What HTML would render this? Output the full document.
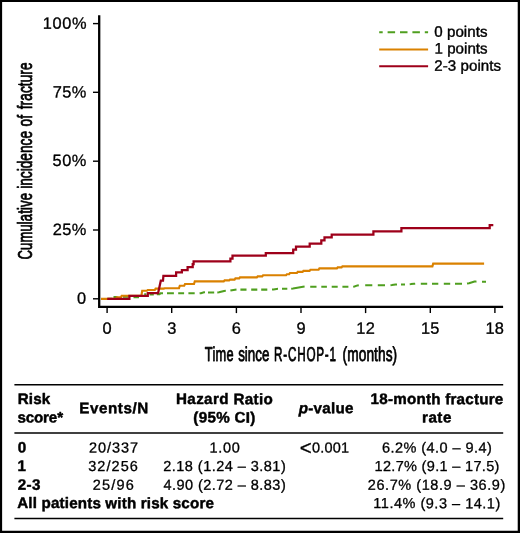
<!DOCTYPE html>
<html lang="en">
<head>
<meta charset="utf-8">
<title>Cumulative incidence of fracture</title>
<style>
html,body{margin:0;padding:0;background:#fff;}
body{width:520px;height:533px;overflow:hidden;}
svg{display:block;}
text{font-family:"Liberation Sans",Arial,Helvetica,sans-serif;fill:#000;stroke:#000;stroke-width:0.3px;stroke-linejoin:round;}
.t{font-size:16.4px;stroke-width:0.3px;}
.l{font-size:15.1px;stroke-width:0.4px;}
.c{font-size:20px;stroke-width:0.8px;}
.b{font-size:15.2px;font-weight:bold;stroke-width:0.45px;}
.r{font-size:14.5px;stroke-width:0.3px;}
</style>
</head>
<body>
<svg width="520" height="533" viewBox="0 0 520 533">
<rect x="0" y="0" width="520" height="533" fill="#fff"/>
<path d="M0,0H520V533H0Z M2.12,2.12V530.7H517.72V2.12Z" fill="#000" fill-rule="evenodd"/>
<path d="M99.2,15.3 V306.9 H503.1" fill="none" stroke="#000" stroke-width="2.3"/>
<line x1="93" x2="99" y1="298.8" y2="298.8" stroke="#000" stroke-width="1.4"/>
<line x1="93" x2="99" y1="230.0" y2="230.0" stroke="#000" stroke-width="1.4"/>
<line x1="93" x2="99" y1="161.2" y2="161.2" stroke="#000" stroke-width="1.4"/>
<line x1="93" x2="99" y1="92.3" y2="92.3" stroke="#000" stroke-width="1.4"/>
<line x1="93" x2="99" y1="23.6" y2="23.6" stroke="#000" stroke-width="1.4"/>
<line x1="107.1" x2="107.1" y1="307" y2="313.1" stroke="#000" stroke-width="1.4"/>
<line x1="171.7" x2="171.7" y1="307" y2="313.1" stroke="#000" stroke-width="1.4"/>
<line x1="236.4" x2="236.4" y1="307" y2="313.1" stroke="#000" stroke-width="1.4"/>
<line x1="301.0" x2="301.0" y1="307" y2="313.1" stroke="#000" stroke-width="1.4"/>
<line x1="365.6" x2="365.6" y1="307" y2="313.1" stroke="#000" stroke-width="1.4"/>
<line x1="430.3" x2="430.3" y1="307" y2="313.1" stroke="#000" stroke-width="1.4"/>
<line x1="494.9" x2="494.9" y1="307" y2="313.1" stroke="#000" stroke-width="1.4"/>
<path d="M107.5,298.7 L112.0,298.7 M113.5,297.1 L117.5,297.1 M123.0,296.7 L128.5,296.7 M133.5,297.1 L139.0,297.1 M144.2,294.3 L146.4,294.3 M149.6,294.4 L153.8,294.4 M156.8,294.3 L159.5,294.2 L160.5,293.2 L163.0,293.2 M167.0,293.2 L173.9,293.2 M178.2,293.2 L184.1,293.2 M188.4,293.2 L194.7,293.2 M199.6,293.3 L201.0,293.2 L204.0,292.3 L205.0,292.2 M208.0,292.4 L214.2,292.4 M217.3,292.4 L219.0,292.3 L224.0,290.9 L225.8,290.8 M230.4,290.6 L232.0,290.3 L235.0,289.8 L236.5,289.6 M240.4,289.6 L246.5,289.6 M251.2,289.6 L257.3,289.6 M261.2,289.6 L267.3,289.6 M272.0,289.5 L273.5,289.4 L276.5,288.9 L278.0,288.8 M282.0,288.8 L287.3,288.8 M291.2,288.7 L293.0,288.5 L303.0,286.7 L304.6,286.5 M310.2,286.8 L316.5,286.8 M321.3,286.8 L326.9,286.8 M331.7,286.8 L337.7,286.8 M342.4,286.8 L348.4,286.8 M353.2,286.7 L354.5,286.5 L357.5,285.4 L358.8,285.2 M365.2,285.2 L372.3,285.2 M377.8,285.2 L385.0,285.2 M390.5,285.2 L392.0,285.1 L395.5,284.5 L397.0,284.4 M401.0,284.4 L405.0,284.4 M409.7,284.2 L411.0,284.1 L414.0,283.8 L415.2,283.7 M420.8,283.7 L427.2,283.7 M432.0,283.7 L438.3,283.7 M443.8,283.7 L450.2,283.7 M455.0,283.7 L462.0,283.7 M467.0,283.6 L469.0,283.3 L474.5,281.6 L476.5,281.4 M482.0,281.7 L486.0,281.7" fill="none" stroke="#4f9f1f" stroke-width="2.05"/>
<path d="M101.0,298.9 L116.0,298.9 L116.8,297.3 L120.9,297.3 L121.7,295.7 L141.4,295.7 L142.2,290.7 L146.9,290.7 L147.7,290.0 L154.8,290.0 L155.6,288.6 L163.8,288.6 L164.6,288.2 L179.0,288.2 L179.8,285.7 L184.2,285.7 L185.0,284.0 L194.0,284.0 L194.8,281.3 L223.8,281.3 L224.6,280.4 L229.2,280.4 L230.0,279.6 L234.6,279.6 L235.4,278.4 L239.2,278.4 L240.0,277.3 L256.9,277.3 L257.7,276.4 L262.3,276.4 L263.1,275.2 L286.1,275.2 L286.9,274.2 L289.2,274.2 L290.0,273.0 L296.9,273.0 L297.7,271.8 L302.6,271.8 L303.4,270.8 L309.6,270.8 L310.4,269.7 L318.6,269.7 L319.4,268.4 L336.9,268.4 L337.7,267.3 L341.6,267.3 L342.4,266.3 L432.4,266.3 L433.2,263.6 L484.1,263.6" fill="none" stroke="#da8100" stroke-width="2.15"/>
<path d="M107.2,298.9 L129.4,298.9 L129.4,295.9 L147.8,295.9 L147.8,293.1 L158.1,293.1 L160.8,280.7 L163.0,280.7 L163.4,275.8 L176.1,275.8 L176.1,272.4 L181.9,272.4 L181.9,270.1 L187.6,270.1 L187.6,267.0 L192.7,267.0 L192.7,264.0 L193.6,264.0 L193.6,261.3 L230.4,261.3 L230.4,258.5 L232.5,258.5 L232.5,255.7 L265.8,255.7 L265.8,253.0 L293.2,253.0 L293.2,249.6 L296.0,249.6 L296.0,246.6 L309.7,246.6 L309.7,243.7 L321.3,243.7 L321.3,240.3 L324.5,240.3 L324.5,237.3 L331.7,237.3 L331.7,234.5 L373.4,234.5 L373.4,231.4 L401.4,231.4 L401.4,228.2 L489.7,228.2 L489.7,225.1 L493.3,225.1" fill="none" stroke="#9e001a" stroke-width="2.25"/>
<line x1="379.2" x2="428.1" y1="32.3" y2="32.3" stroke="#4f9f1f" stroke-width="2.05" stroke-dasharray="7.5 4.9" stroke-dashoffset="4"/>
<line x1="379.2" x2="428.1" y1="49.4" y2="49.4" stroke="#da8100" stroke-width="2.05"/>
<line x1="379.2" x2="428.1" y1="66.3" y2="66.3" stroke="#9e001a" stroke-width="2.05"/>
<line x1="14.4" x2="503.2" y1="384.7" y2="384.7" stroke="#000" stroke-width="1.45"/>
<line x1="14.4" x2="503.2" y1="432.95" y2="432.95" stroke="#000" stroke-width="1.45"/>
<line x1="14.4" x2="503.2" y1="518.5" y2="518.5" stroke="#000" stroke-width="1.45"/>
<text transform="translate(42.80,28.70) rotate(0.03) scale(1.0000,1)" letter-spacing="0.600" class="t">100%</text>
<text transform="translate(52.85,97.45) rotate(0.03) scale(1.0000,1)" letter-spacing="0.375" class="t">75%</text>
<text transform="translate(52.50,166.10) rotate(0.03) scale(1.0000,1)" letter-spacing="0.550" class="t">50%</text>
<text transform="translate(52.75,235.00) rotate(0.03) scale(1.0000,1)" letter-spacing="0.425" class="t">25%</text>
<text transform="translate(77.08,303.70) rotate(0.03) scale(1.0000,1)" class="t">0</text>
<text transform="translate(102.57,333.80) rotate(0.03) scale(1.0000,1)" class="t">0</text>
<text transform="translate(167.33,333.80) rotate(0.03) scale(1.0000,1)" class="t">3</text>
<text transform="translate(231.84,333.80) rotate(0.03) scale(1.0000,1)" class="t">6</text>
<text transform="translate(296.48,333.80) rotate(0.03) scale(1.0000,1)" class="t">9</text>
<text transform="translate(356.28,333.80) rotate(0.03) scale(1.0000,1)" letter-spacing="0.400" class="t">12</text>
<text transform="translate(420.92,333.80) rotate(0.03) scale(1.0000,1)" letter-spacing="0.150" class="t">15</text>
<text transform="translate(485.55,333.80) rotate(0.03) scale(1.0000,1)" letter-spacing="0.150" class="t">18</text>
<text transform="translate(434.20,36.70) rotate(0.03) scale(1.0000,1)" letter-spacing="0.071" class="l">0 points</text>
<text transform="translate(434.50,53.60) rotate(0.03) scale(1.0000,1)" letter-spacing="0.029" class="l">1 points</text>
<text transform="translate(434.30,70.70) rotate(0.03) scale(1.0000,1)" letter-spacing="0.056" class="l">2-3 points</text>
<text transform="translate(17.75,404.10) rotate(0.03) scale(1.0000,1)" letter-spacing="0.100" class="b">Risk</text>
<text transform="translate(17.45,422.60) rotate(0.03) scale(1.0000,1)" letter-spacing="-0.170" class="b">score*</text>
<text transform="translate(79.25,413.20) rotate(0.03) scale(1.0000,1)" letter-spacing="0.571" class="b">Events/N</text>
<text transform="translate(176.00,404.10) rotate(0.03) scale(1.0000,1)" letter-spacing="0.364" class="b">Hazard Ratio</text>
<text transform="translate(193.25,422.60) rotate(0.03) scale(1.0000,1)" letter-spacing="0.321" class="b">(95% CI)</text>
<text transform="translate(298.75,413.20) rotate(0.03) scale(1.0000,1)" letter-spacing="0.250" class="b"><tspan font-style="italic">p</tspan>-value</text>
<text transform="translate(370.55,404.10) rotate(0.03) scale(1.0000,1)" letter-spacing="0.225" class="b">18-month fracture</text>
<text transform="translate(421.95,422.60) rotate(0.03) scale(1.0000,1)" letter-spacing="0.517" class="b">rate</text>
<text transform="translate(17.75,452.50) rotate(0.03) scale(1.0000,1)" class="b">0</text>
<text transform="translate(17.40,471.00) rotate(0.03) scale(1.0000,1)" class="b">1</text>
<text transform="translate(17.75,489.70) rotate(0.03) scale(1.0000,1)" letter-spacing="0.375" class="b">2-3</text>
<text transform="translate(17.25,508.10) rotate(0.03) scale(1.0000,1)" letter-spacing="0.157" class="b">All patients with risk score</text>
<text transform="translate(89.00,452.50) rotate(0.03) scale(1.0000,1)" letter-spacing="0.950" class="r">20/337</text>
<text transform="translate(88.25,471.00) rotate(0.03) scale(1.0000,1)" letter-spacing="1.050" class="r">32/256</text>
<text transform="translate(92.75,489.70) rotate(0.03) scale(1.0000,1)" letter-spacing="1.188" class="r">25/96</text>
<text transform="translate(209.50,452.50) rotate(0.03) scale(1.0000,1)" letter-spacing="0.667" class="r">1.00</text>
<text transform="translate(163.25,471.00) rotate(0.03) scale(1.0000,1)" letter-spacing="0.471" class="r">2.18 (1.24 – 3.81)</text>
<text transform="translate(163.50,489.70) rotate(0.03) scale(1.0000,1)" letter-spacing="0.456" class="r">4.90 (2.72 – 8.83)</text>
<text transform="translate(299.85,452.50) rotate(0.03) scale(1.0000,1)" letter-spacing="0.180" class="r"><tspan font-size="20.5" dy="2.3">&lt;</tspan><tspan dy="-2.3">0.001</tspan></text>
<text transform="translate(381.90,452.50) rotate(0.03) scale(1.0000,1)" letter-spacing="0.447" class="r">6.2% (4.0 – 9.4)</text>
<text transform="translate(374.50,471.00) rotate(0.03) scale(1.0000,1)" letter-spacing="0.329" class="r">12.7% (9.1 – 17.5)</text>
<text transform="translate(367.80,489.70) rotate(0.03) scale(1.0000,1)" letter-spacing="0.558" class="r">26.7% (18.9 – 36.9)</text>
<text transform="translate(373.30,508.10) rotate(0.03) scale(1.0000,1)" letter-spacing="0.512" class="r">11.4% (9.3 – 14.1)</text>
<text transform="translate(0,361.00) rotate(0.03) scale(0.685,1)" class="c"><tspan x="298.98" textLength="42.43" lengthAdjust="spacingAndGlyphs" letter-spacing="0.427">Time</tspan> <tspan x="347.64" textLength="45.83" lengthAdjust="spacingAndGlyphs" letter-spacing="0.030">since</tspan> <tspan x="400.10" textLength="91.52" lengthAdjust="spacingAndGlyphs" letter-spacing="1.312">R-CHOP-1</tspan> <tspan x="500.13" textLength="79.71" lengthAdjust="spacingAndGlyphs" letter-spacing="0.101">(months)</tspan></text>
<text transform="translate(32.10,0) rotate(-90) scale(0.685,1)" class="c"><tspan x="-378.87" textLength="97.29" lengthAdjust="spacingAndGlyphs" letter-spacing="0.248">Cumulative</tspan> <tspan x="-275.59" textLength="84.33" lengthAdjust="spacingAndGlyphs" letter-spacing="0.048">incidence</tspan> <tspan x="-184.74" textLength="17.44" lengthAdjust="spacingAndGlyphs" letter-spacing="0.312">of</tspan> <tspan x="-159.56" textLength="68.54" lengthAdjust="spacingAndGlyphs" letter-spacing="0.090">fracture</tspan></text>
</svg>
</body>
</html>
